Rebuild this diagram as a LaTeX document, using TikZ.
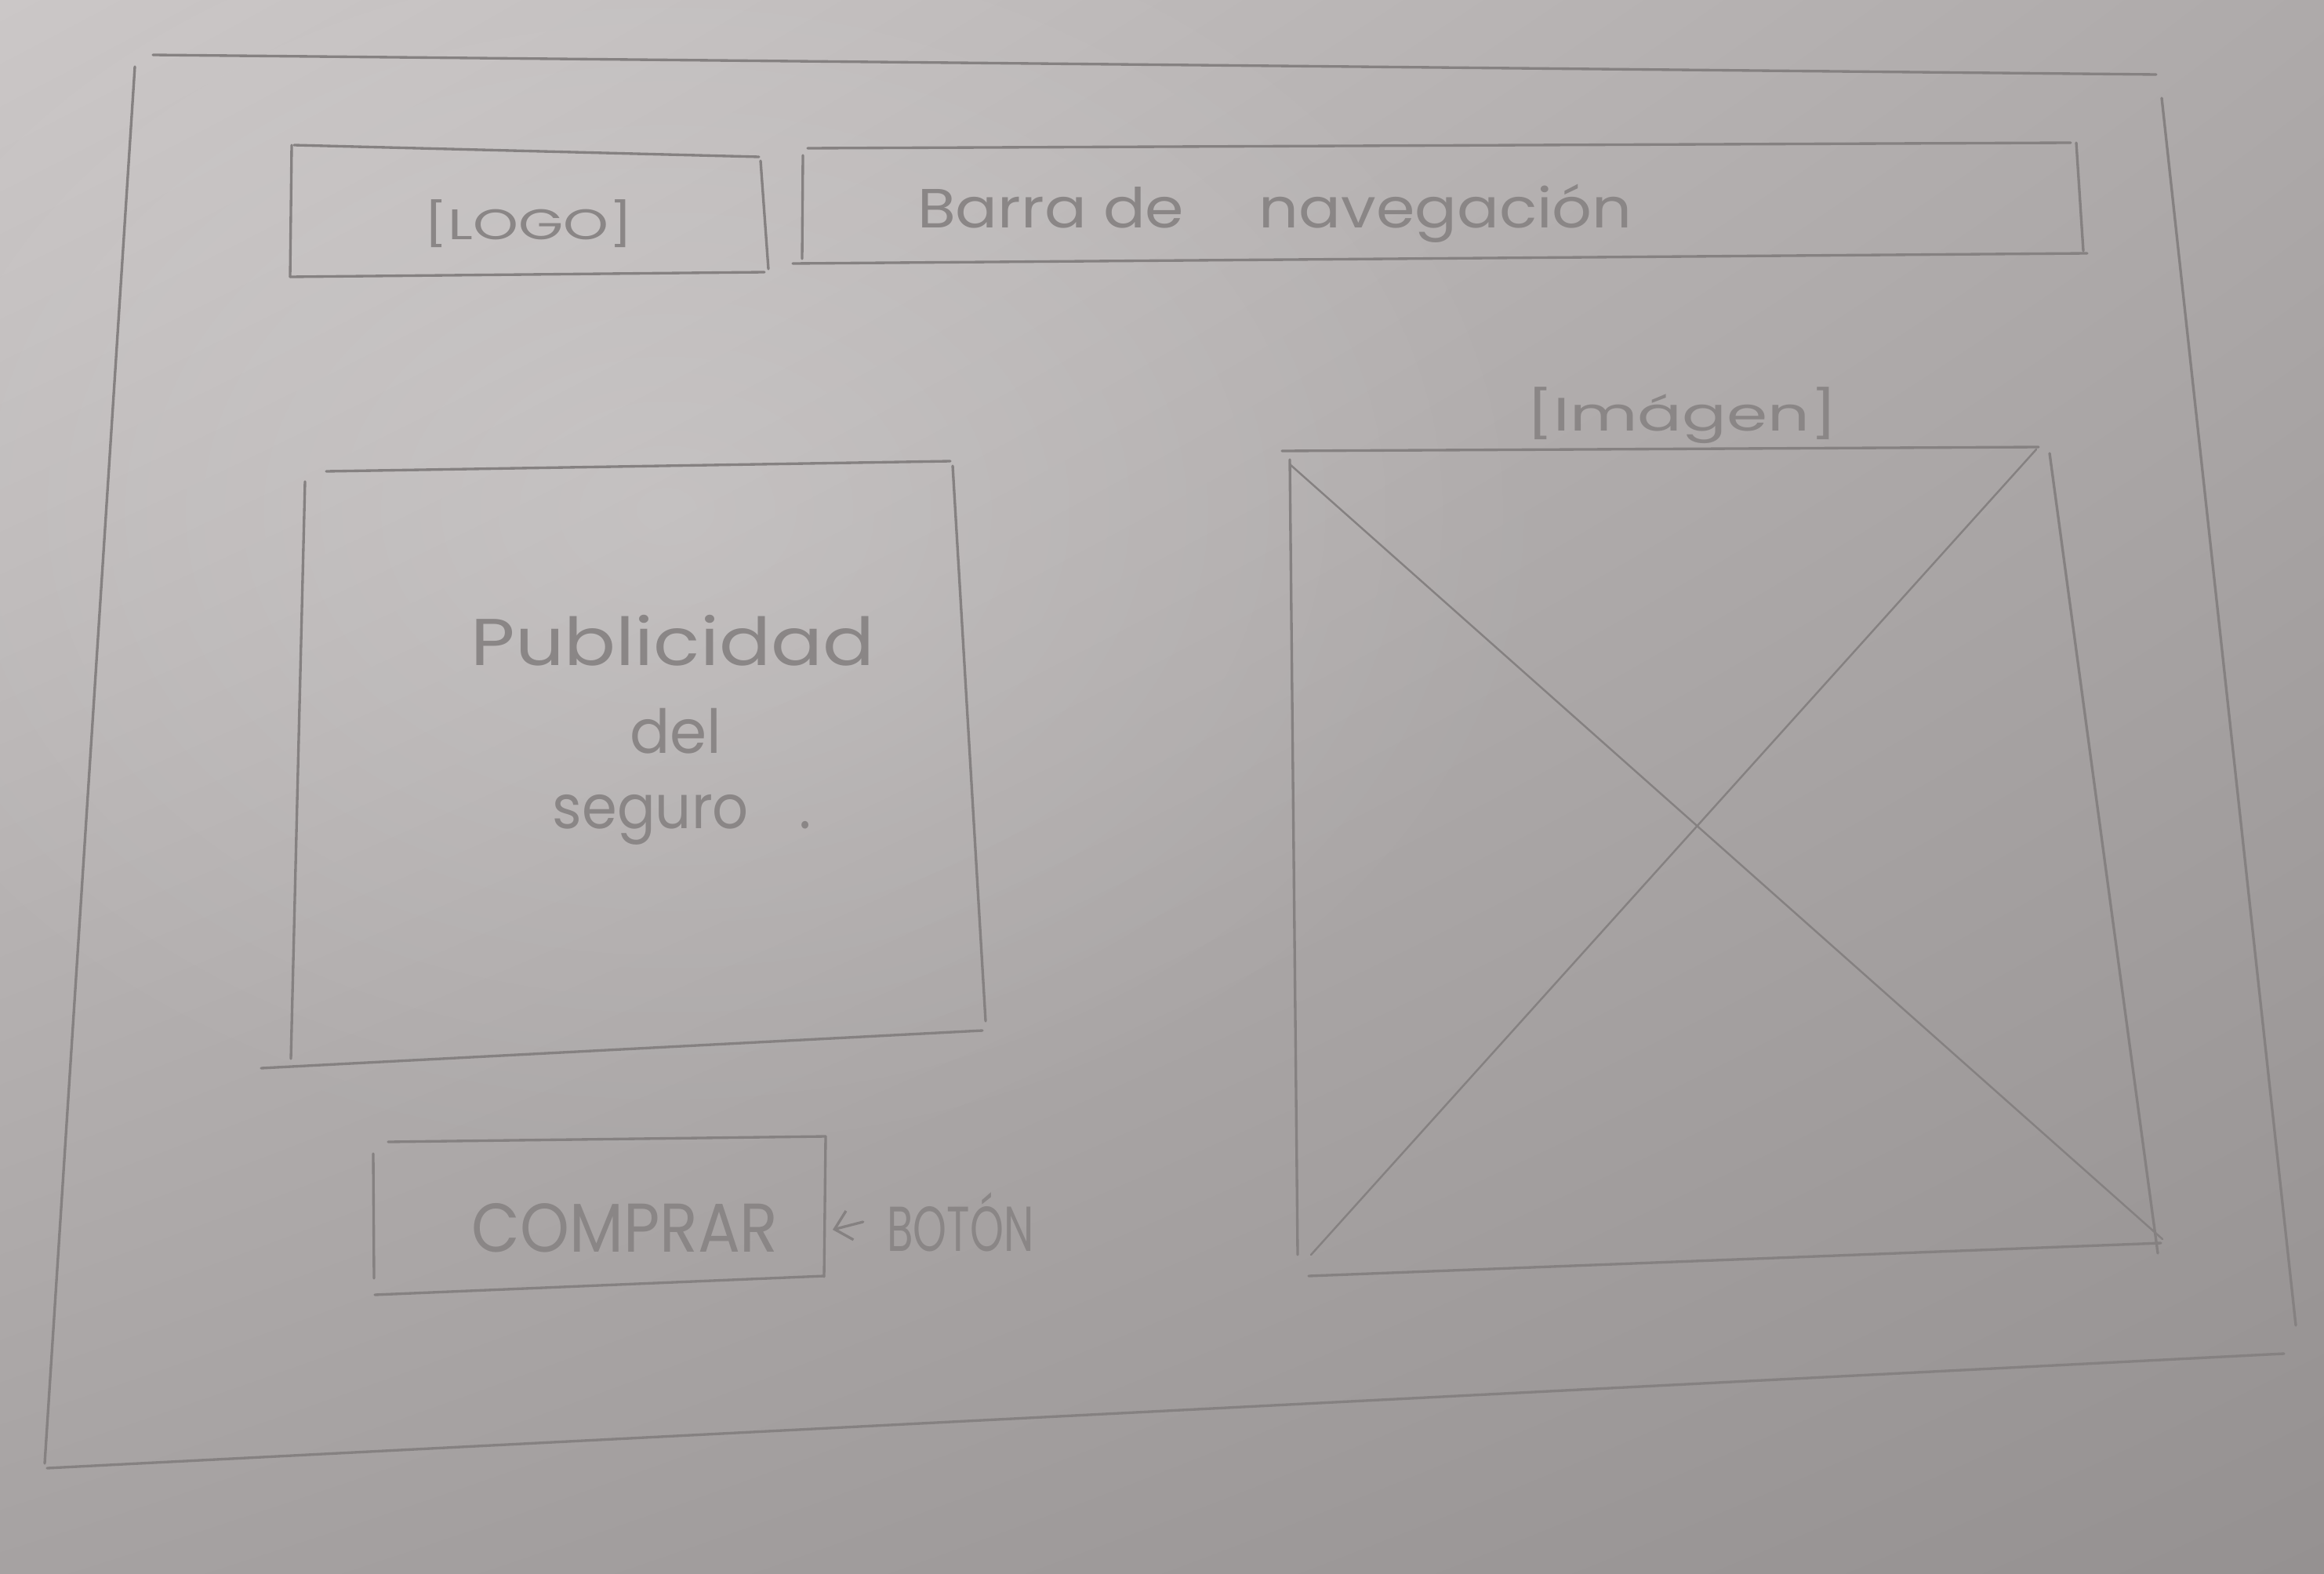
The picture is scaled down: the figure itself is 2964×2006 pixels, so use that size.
\documentclass[tikz,border=0pt]{standalone}
\usepackage{fontspec}
\setmainfont{Poppins}
\usepackage{graphicx}
\usetikzlibrary{arrows.meta,fadings,shadings}

\definecolor{paperUL}{HTML}{CBC7C7}
\definecolor{paperUR}{HTML}{AEAAAA}
\definecolor{paperLL}{HTML}{A6A2A2}
\definecolor{paperLR}{HTML}{959191}
\definecolor{pencilgray}{HTML}{858181}
\definecolor{inkgray}{HTML}{8A8686}

\tikzfading[name=softspot, inner color=transparent!0, outer color=transparent!100]

% handwritten-looking label: fixed width, natural height
\newcommand{\hand}[3]{\resizebox{#1}{\height}{\fontsize{#2}{#2}\selectfont #3}}

\begin{document}
\begin{tikzpicture}[x=0.01cm,y=-0.01cm,
  pencil/.style={draw=pencilgray, line width=0.95pt, line cap=round},
  fine pencil/.style={draw=pencilgray, line width=0.7pt, line cap=round},
  label/.style={text=inkgray, inner sep=0pt, anchor=center}]

  % sheet of paper
  \useasboundingbox (0,0) rectangle (2964,2006);
  \shade[upper left=paperUL, upper right=paperUR, lower left=paperLL, lower right=paperLR]
    (0,0) rectangle (2964,2006);
  \fill[white, opacity=0.18, path fading=softspot] (850,650) ellipse (1150 and 850);

  % page frame
  \draw[pencil] (195,70) -- (2750,95);
  \draw[pencil] (172,85) -- (57,1866);
  \draw[pencil] (60,1872) -- (2913,1726);
  \draw[pencil] (2757,125) -- (2928,1690);

  % logo box
  \draw[pencil] (375,185) -- (968,200);
  \draw[pencil] (372,185) -- (370,353);
  \draw[pencil] (370,353) -- (975,347);
  \draw[pencil] (970,205) -- (980,343);
  \node[label] (logo) at (674,285) {\hand{2.67cm}{15.5}{[LOGO]}};

  % navigation bar
  \draw[pencil] (1030,189) -- (2641,182);
  \draw[pencil] (1024,198) -- (1023,330);
  \draw[pencil] (1011,336) -- (2662,323);
  \draw[pencil] (2648,182) -- (2657,320);
  \node[label] (nav) at (1626,272) {\hand{9.11cm}{20}{Barra de\hspace{1.2em}navegación}};

  % advertising panel
  \draw[pencil] (416,601) -- (1212,588);
  \draw[pencil] (389,614) -- (371,1350);
  \draw[pencil] (1215,594) -- (1257,1302);
  \draw[pencil] (333,1362) -- (1253,1314);
  \node[label] (pub1) at (858,817) {\hand{5.14cm}{24}{Publicidad}};
  \node[label] (pub2) at (862,932) {\hand{1.17cm}{22}{del}};
  \node[label] (pub3) at (870,1045) {\hand{3.3cm}{22}{seguro\hspace{0.9em}.}};

  % image placeholder
  \node[label] (imglabel) at (2145,530) {\hand{3.97cm}{17}{[Imágen]}};
  \draw[pencil] (1635,575) -- (2600,570);
  \draw[pencil] (1645,586) -- (1655,1600);
  \draw[pencil] (2614,578) -- (2752,1598);
  \draw[pencil] (1669,1627) -- (2756,1585);
  \draw[fine pencil] (1645,592) -- (2758,1580);
  \draw[fine pencil] (2597,573) -- (1672,1600);

  % buy button
  \draw[pencil] (495,1456) -- (1053,1449);
  \draw[pencil] (476,1471) -- (477,1630);
  \draw[pencil] (1053,1449) -- (1051,1628);
  \draw[pencil] (478,1651) -- (1051,1627);
  \coordinate (buyedge) at (1062,1568);
  \node[label] (buy) at (797,1566) {\hand{3.91cm}{25}{COMPRAR}};

  % button annotation
  \node[label] (boton) at (1225,1558) {\hand{1.87cm}{23}{BOTÓN}};
  \draw[pencil, -{Straight Barb[length=0.2cm,width=0.38cm]}]
    ([xshift=-0.3cm]boton.west) -- (buyedge);
\end{tikzpicture}
\end{document}
